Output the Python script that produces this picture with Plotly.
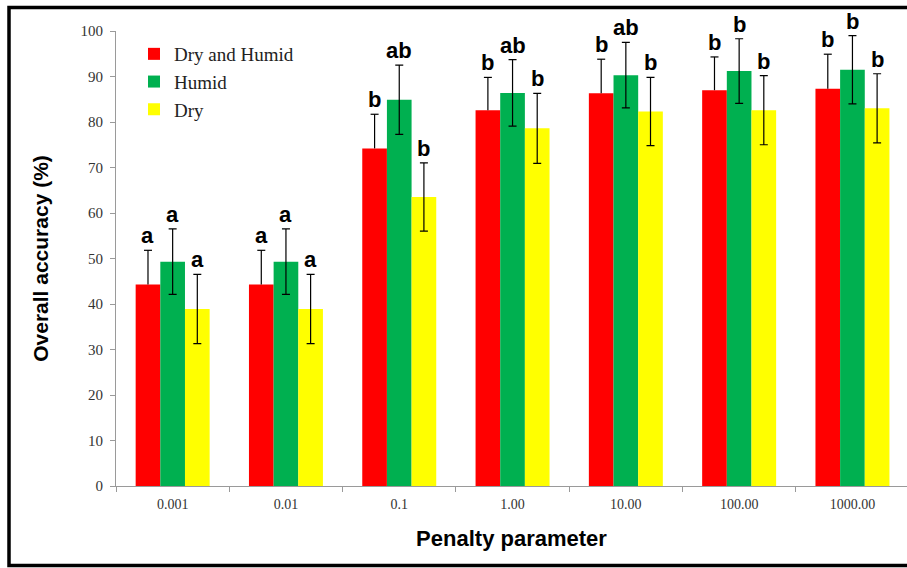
import plotly.graph_objects as go

# Penalty parameter values (categories)
categories = ["0.001", "0.01", "0.1", "1.00", "10.00", "100.00", "1000.00"]

# Overall accuracy (%) per data set
dry_humid = [44.3, 44.3, 74.2, 82.6, 86.3, 87.0, 87.3]
humid = [49.3, 49.3, 84.9, 86.4, 90.3, 91.2, 91.5]
dry = [38.9, 38.9, 63.5, 78.6, 82.3, 82.6, 83.0]

# Standard deviations
dry_humid_err = [7.5, 7.5, 7.5, 7.2, 7.5, 7.3, 7.6]
humid_err = [7.2, 7.2, 7.6, 7.3, 7.2, 7.1, 7.5]
dry_err = [7.6, 7.6, 7.5, 7.7, 7.5, 7.6, 7.6]

# Significance letters
dry_humid_letters = ["a", "a", "b", "b", "b", "b", "b"]
humid_letters = ["a", "a", "ab", "ab", "ab", "b", "b"]
dry_letters = ["a", "a", "b", "b", "b", "b", "b"]

series = [
    ("Dry and Humid", dry_humid, dry_humid_err, dry_humid_letters, "#FF0000", True),
    ("Humid", humid, humid_err, humid_letters, "#00B050", False),
    ("Dry", dry, dry_err, dry_letters, "#FFFF00", False),
]

W, H = 907, 568
left, top, bottom_px = 116, 31, 486
plot_w = W - left
cat_px = 113.3
span = plot_w / cat_px

bargap = 0.347
bar_w = (1 - bargap) / 3
cap_half = 4 / cat_px

fig = go.Figure()
shapes = []
annotations = []
for k, (name, vals, errs, letters, color, plus_only) in enumerate(series):
    err = dict(type="data", array=errs, color="black", thickness=1.2, width=4, visible=True)
    if plus_only:
        # upper whisker only; its cap is added below as a shape
        err.update(symmetric=False, arrayminus=[0] * len(errs), width=0)
    fig.add_trace(go.Bar(
        name=name, x=categories, y=vals, marker=dict(color=color, line=dict(width=0)),
        error_y=err,
    ))
    offset = (k - 1) * bar_w
    for i, (v, e, t) in enumerate(zip(vals, errs, letters)):
        if plus_only:
            shapes.append(dict(type="line", xref="x", yref="y",
                               x0=i + offset - cap_half, x1=i + offset + cap_half,
                               y0=v + e, y1=v + e, line=dict(color="black", width=1.2)))
        annotations.append(dict(
            x=i + offset, y=v + e, xref="x", yref="y", text=t, showarrow=False,
            yanchor="bottom", yshift=0,
            font=dict(family="Liberation Sans, Arial", size=22, color="black", weight="bold"),
        ))

# outer frame (right side runs past the page edge)
shapes.append(dict(type="rect", xref="paper", yref="paper",
                   x0=(9 - left) / plot_w, x1=(W + 20 - left) / plot_w,
                   y0=(bottom_px - 565.5) / (bottom_px - top),
                   y1=(bottom_px - 7.5) / (bottom_px - top),
                   line=dict(color="black", width=3.5), layer="above"))

fig.update_layout(
    width=W, height=H,
    margin=dict(l=left, r=0, t=top, b=H - bottom_px),
    paper_bgcolor="white", plot_bgcolor="white",
    barmode="group", bargap=bargap, bargroupgap=0,
    annotations=annotations,
    shapes=shapes,
    legend=dict(
        x=(134 - left) / plot_w, y=(bottom_px - 35) / (bottom_px - top),
        xanchor="left", yanchor="top", bgcolor="rgba(0,0,0,0)",
        font=dict(family="Liberation Serif, Times New Roman", size=19, color="#222"),
        tracegroupgap=0, itemwidth=30,
    ),
    xaxis=dict(
        type="category", range=[-0.5, -0.5 + span],
        showline=True, linecolor="#9a9a9a", linewidth=1.2,
        ticks="outside", tickson="boundaries", ticklen=5, tickcolor="#9a9a9a",
        ticklabelstandoff=5,
        tickfont=dict(family="Liberation Serif, Times New Roman", size=14, color="#333"),
        title=dict(text="Penalty parameter", standoff=19,
                   font=dict(family="Liberation Sans, Arial", size=22, color="black", weight="bold")),
    ),
    yaxis=dict(
        range=[0, 100], dtick=10, showgrid=False, zeroline=False,
        showline=True, linecolor="#9a9a9a", linewidth=1.2,
        ticks="outside", ticklen=5, tickcolor="#9a9a9a", ticklabelstandoff=4,
        tickfont=dict(family="Liberation Serif, Times New Roman", size=15, color="#333"),
        title=dict(text="Overall accuracy (%)", standoff=26,
                   font=dict(family="Liberation Sans, Arial", size=21, color="black", weight="bold")),
    ),
)

fig.write_html("out.html")
